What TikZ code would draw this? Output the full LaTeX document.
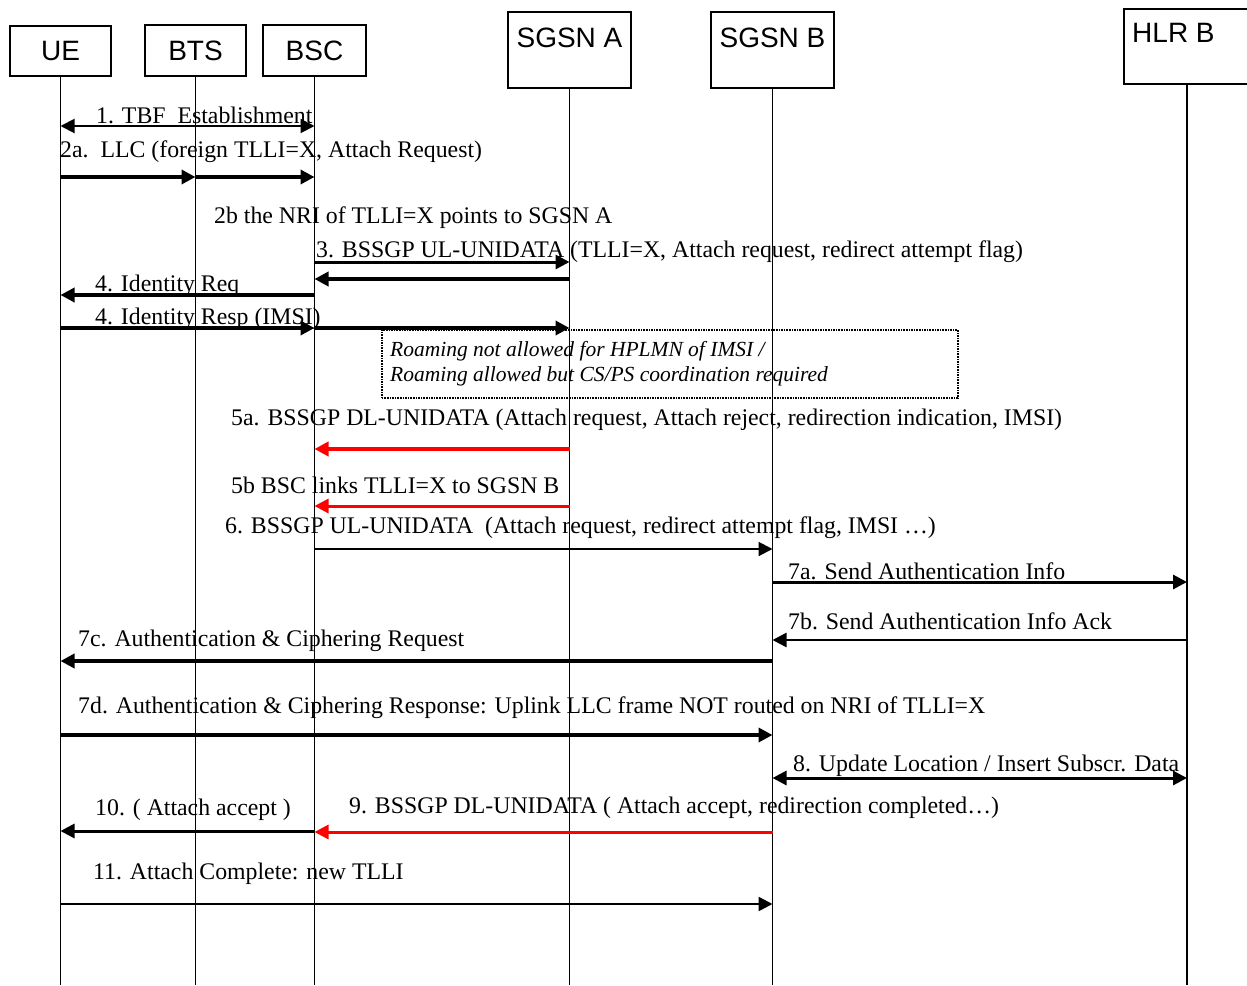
\documentclass[tikz,border=0pt]{standalone}
\usepackage{fontspec}
\setmainfont{Liberation Serif}
\newfontfamily\boxfont{Liberation Sans}
\usetikzlibrary{arrows.meta}
\begin{document}
\begin{tikzpicture}[x=1pt,y=-1pt,
  >={Triangle[length=14pt,width=14pt]},
  ent/.style={draw, line width=1.6pt, inner sep=0pt},
  boxtxt/.style={inner sep=0pt, font=\boxfont\fontsize{28}{32}\selectfont},
  life/.style={line width=1.6pt},
  lab/.style={anchor=base west, inner sep=0pt, font=\fontsize{23.8}{28}\selectfont},
  note/.style={anchor=base west, inner sep=0pt, font=\itshape\fontsize{21.5}{25}\selectfont},
  msg/.style={->},
  red msg/.style={->, draw=red},
]
\useasboundingbox (0,0) rectangle (1247,985);

% entity boxes
\node[ent, minimum width=101pt, minimum height=50pt] (ue) at (60.5,51) {};
\node[ent, minimum width=101pt, minimum height=51pt] (bts) at (195.5,50.5) {};
\node[ent, minimum width=103pt, minimum height=51pt] (bsc) at (314.5,50.5) {};
\node[ent, minimum width=123pt, minimum height=76pt] (sgsna) at (569.5,50) {};
\node[ent, minimum width=123pt, minimum height=76pt] (sgsnb) at (772.5,50) {};
\node[ent, minimum width=126pt, minimum height=75pt] (hlrb) at (1187,46.5) {};

\node[boxtxt] (tue) at (ue.center) {UE};
\node[boxtxt] (tbts) at (bts.center) {BTS};
\node[boxtxt] (tbsc) at (bsc.center) {BSC};
\node[boxtxt] (tsgsna) at (sgsna.center |- 0,38) {SGSN A};
\node[boxtxt] (tsgsnb) at (sgsnb.center |- 0,38) {SGSN B};
\node[boxtxt, anchor=west] (thlrb) at (1132,33) {HLR B};

% lifelines
\coordinate (ueend) at (ue.south |- 0,985);
\coordinate (btsend) at (bts.south |- 0,985);
\coordinate (bscend) at (bsc.south |- 0,985);
\coordinate (sgsnaend) at (sgsna.south |- 0,985);
\coordinate (sgsnbend) at (sgsnb.south |- 0,985);
\coordinate (hlrbend) at (hlrb.south |- 0,985);
\draw[life] (ue.south) -- (ueend);
\draw[life] (bts.south) -- (btsend);
\draw[life] (bsc.south) -- (bscend);
\draw[life] (sgsna.south) -- (sgsnaend);
\draw[life] (sgsnb.south) -- (sgsnbend);
\draw[life] (hlrb.south) -- (hlrbend);

% note box
\node[draw, densely dotted, line width=1.6pt, inner sep=0pt, anchor=north west,
      minimum width=576pt, minimum height=68pt] (notebox) at (381,329) {};
\node[note] (n1) at (390,356) {Roaming not allowed for HPLMN of IMSI /};
\node[note] (n2) at (390,381) {Roaming allowed but CS/PS coordination required};

% messages
\draw[<->, line width=2pt] (ue |- 0,126) -- (bsc |- 0,126);
\draw[msg, line width=3.5pt] (ue |- 0,177) -- (bts |- 0,177);
\draw[msg, line width=3.5pt] (bts |- 0,177) -- (bsc |- 0,177);
\draw[msg, line width=3pt] (bsc |- 0,262) -- (sgsna |- 0,262);
\draw[msg, line width=4pt] (sgsna |- 0,279) -- (bsc |- 0,279);
\draw[msg, line width=4pt] (bsc |- 0,295) -- (ue |- 0,295);
\draw[msg, line width=4pt] (ue |- 0,328) -- (bsc |- 0,328);
\draw[msg, line width=4pt] (bsc |- 0,328) -- (sgsna |- 0,328);
\draw[red msg, line width=4pt] (sgsna |- 0,449) -- (bsc |- 0,449);
\draw[red msg, line width=3pt] (sgsna |- 0,506) -- (bsc |- 0,506);
\draw[msg, line width=2pt] (bsc |- 0,549) -- (sgsnb |- 0,549);
\draw[msg, line width=3pt] (sgsnb |- 0,582) -- (hlrb |- 0,582);
\draw[msg, line width=2.5pt] (hlrb |- 0,640) -- (sgsnb |- 0,640);
\draw[msg, line width=4pt] (sgsnb |- 0,661) -- (ue |- 0,661);
\draw[msg, line width=3.5pt] (ue |- 0,735) -- (sgsnb |- 0,735);
\draw[<->, line width=3pt] (sgsnb |- 0,778) -- (hlrb |- 0,778);
\draw[red msg, line width=3pt] (sgsnb |- 0,832) -- (bsc |- 0,832);
\draw[msg, line width=3pt] (bsc |- 0,831) -- (ue |- 0,831);
\draw[msg, line width=2.5pt] (ue |- 0,904) -- (sgsnb |- 0,904);

% labels
\node[lab] (l1) at (96,123) {1. TBF\ \ Establishment};
\node[lab] (l2a) at (60,157) {2a.\ \ LLC (foreign TLLI=X, Attach Request)};
\node[lab] (l2b) at (214,223) {2b the NRI of TLLI=X points to SGSN A};
\node[lab] (l3) at (316,257) {3. BSSGP UL-UNIDATA (TLLI=X, Attach request, redirect attempt flag)};
\node[lab] (l4a) at (95,291) {4. Identity Req};
\node[lab] (l4b) at (95,324) {4. Identity Resp (IMSI)};
\node[lab] (l5a) at (231,425) {5a. BSSGP DL-UNIDATA (Attach request, Attach reject, redirection indication, IMSI)};
\node[lab] (l5b) at (231,493) {5b BSC links TLLI=X to SGSN B};
\node[lab] (l6) at (225,533) {6. BSSGP UL-UNIDATA\ \ (Attach request, redirect attempt flag, IMSI …)};
\node[lab] (l7a) at (788,579) {7a. Send Authentication Info};
\node[lab] (l7b) at (788,629) {7b. Send Authentication Info Ack};
\node[lab] (l7c) at (78,646) {7c. Authentication \& Ciphering Request};
\node[lab] (l7d) at (78,713) {7d. Authentication \& Ciphering Response: Uplink LLC frame NOT routed on NRI of TLLI=X};
\node[lab] (l8) at (793,771) {8. Update Location / Insert Subscr. Data};
\node[lab] (l9) at (349,813) {9. BSSGP DL-UNIDATA ( Attach accept, redirection completed…)};
\node[lab] (l10) at (95,815) {10. ( Attach accept )};
\node[lab] (l11) at (93,879) {11. Attach Complete: new TLLI};
\end{tikzpicture}
\end{document}
